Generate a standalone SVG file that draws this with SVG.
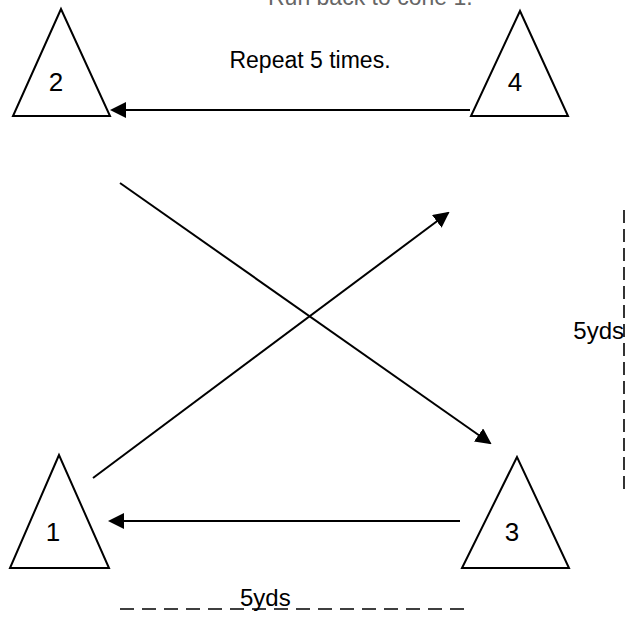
<svg xmlns="http://www.w3.org/2000/svg" width="637" height="620" viewBox="0 0 637 620">
<style>
.cone{fill:#fff;stroke:#000;stroke-width:2;stroke-linejoin:miter}
.lbl{font-family:"Liberation Sans",Arial,sans-serif;font-size:23px;fill:#000}
.num{font-family:"Liberation Sans",Arial,sans-serif;font-size:26px;fill:#000}
.con{stroke:#000;stroke-width:2;fill:none}
.dash{stroke:#000;stroke-width:1.6;fill:none}
</style>
<defs>
<marker id="ahb" markerWidth="16" markerHeight="16" refX="14" refY="8" orient="auto" markerUnits="userSpaceOnUse" viewBox="0 0 16 16">
<path d="M0,0 L16,8 L0,16 z" fill="#000"/>
</marker>
</defs>
<text class="lbl" x="268" y="5" style="fill:#666">Run back to cone 1.</text>
<text class="lbl" x="310" y="68" text-anchor="middle">Repeat 5 times.</text>
<g id="connectors">
<line class="con" x1="470" y1="110" x2="112" y2="110" marker-end="url(#ahb)"/>
<line class="con" x1="120" y1="183" x2="490" y2="443" marker-end="url(#ahb)"/>
<line class="con" x1="93" y1="478" x2="448" y2="213" marker-end="url(#ahb)"/>
<line class="con" x1="460" y1="521" x2="110" y2="521" marker-end="url(#ahb)"/>
</g>
<g id="cone2">
<polygon class="cone" points="61,9 13,116 110,116"/>
<text class="num" x="56" y="91" text-anchor="middle">2</text>
</g>
<g id="cone4">
<polygon class="cone" points="520,11 471,116 568,116"/>
<text class="num" x="515" y="91" text-anchor="middle">4</text>
</g>
<g id="cone1">
<polygon class="cone" points="59,455 10,568 109,568"/>
<text class="num" x="53" y="541" text-anchor="middle">1</text>
</g>
<g id="cone3">
<polygon class="cone" points="517,457 462,568 569,568"/>
<text class="num" x="512" y="541" text-anchor="middle">3</text>
</g>
<g id="scale">
<line class="dash" x1="624" y1="210" x2="624" y2="492" stroke-dasharray="13,6"/>
<text class="lbl" x="624" y="339" text-anchor="end" style="font-size:24px">5yds</text>
<line class="dash" x1="120" y1="609" x2="466" y2="609" stroke-dasharray="14,8"/>
<text class="lbl" x="240" y="606" style="font-size:24px">5yds</text>
</g>
</svg>
